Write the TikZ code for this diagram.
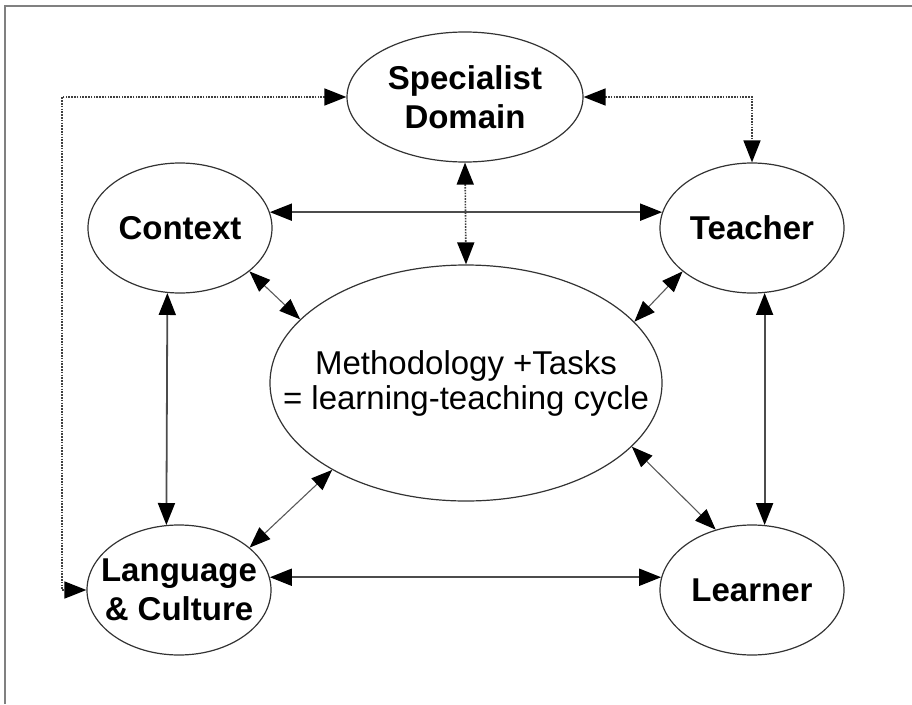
\documentclass[tikz,border=0pt]{standalone}
\usepackage{fontspec}
\setmainfont{Liberation Sans}
\usetikzlibrary{arrows.meta,shapes.geometric}
\begin{document}
\begin{tikzpicture}[x=1pt,y=-1pt,
  ell/.style={draw=black!80, line width=1.2pt, ellipse, inner sep=0pt},
  lbl/.style={align=center, font=\fontsize{33}{38.5}\selectfont\bfseries, inner sep=0pt},
  mlbl/.style={align=center, font=\fontsize{33}{35}\selectfont, inner sep=0pt},
  bigarrow/.style={draw=black!70, line width=1.8pt, {Triangle[length=22pt,width=17pt,color=black]}-{Triangle[length=22pt,width=17pt,color=black]}},
  thinarrow/.style={draw=black!65, line width=1.1pt, {Triangle[length=21pt,width=16pt,color=black]}-{Triangle[length=21pt,width=16pt,color=black]}},
  dotarrow/.style={draw=black!75, line width=1.6pt, dash pattern=on 1.6pt off 1.2pt, {Triangle[length=22pt,width=17pt,color=black]}-{Triangle[length=22pt,width=17pt,color=black]}}
]
\useasboundingbox (0,0) rectangle (912,704);
\draw[black!50, line width=1.5pt] (5,704) -- (5,6) -- (912,6);

% ellipses
\node[ell, minimum width=236pt, minimum height=130pt] (sd) at (465,97) {};
\node[ell, minimum width=184pt, minimum height=130pt] (ctx) at (180,228) {};
\node[ell, minimum width=184pt, minimum height=130pt] (tea) at (752,228) {};
\node[ell, minimum width=392pt, minimum height=236pt] (meth) at (466,383) {};
\node[ell, minimum width=184pt, minimum height=130pt] (lc) at (179,590) {};
\node[ell, minimum width=184pt, minimum height=130pt] (lrn) at (752,590) {};

% labels
\node[lbl] (sdt) at (sd) {Specialist\\Domain};
\node[lbl] (ctxt) at (ctx) {Context};
\node[lbl] (teat) at (tea) {Teacher};
\node[mlbl] (metht) at (meth) {Methodology +Tasks\\= learning-teaching cycle};
\node[lbl] (lct) at (lc) {Language\\\& Culture};
\node[lbl] (lrnt) at (lrn) {Learner};

% solid connectors
\draw[bigarrow] (ctx.10) -- (tea.170);
\draw[bigarrow] (lc.8) -- (lrn.172);
\draw[bigarrow] (ctx.259) -- (lc.101);
\draw[bigarrow] (tea.281) -- (lrn.79);

% diagonal connectors
\draw[thinarrow] (ctx.328) -- (meth.159);
\draw[thinarrow] (tea.212) -- (meth.20);
\draw[thinarrow] (lc.31) -- (meth.213);
\draw[thinarrow] (lrn.121) -- (meth.339);

% dotted connectors
\coordinate (lk) at (62,590);
\draw[dotarrow] (sd.south) -- (meth.north);
\draw[dotarrow] (sd.east) -| (tea.north);
\draw[dotarrow] (sd.west) -| (lk) -- (lc.west);
\end{tikzpicture}
\end{document}
